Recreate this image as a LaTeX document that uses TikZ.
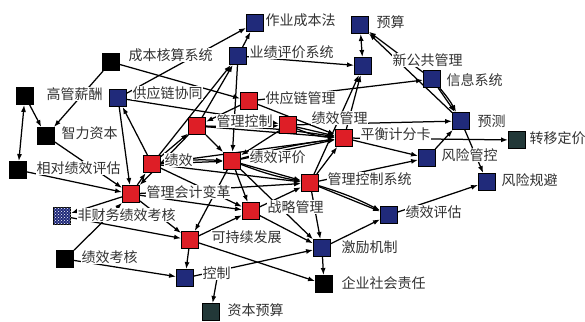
\documentclass[tikz,border=0pt]{standalone}
\usepackage{fontspec}
\newfontfamily\cjk{Noto Sans CJK SC}
\usetikzlibrary{arrows.meta,patterns}
\definecolor{nred}{RGB}{222,30,38}
\definecolor{nblue}{RGB}{32,42,122}
\definecolor{nteal}{RGB}{34,56,56}
\definecolor{txt}{RGB}{50,50,50}
\pgfdeclarelayer{bg}
\pgfsetlayers{bg,main}
\begin{document}
\begin{tikzpicture}[x=1pt,y=-1pt,
 sq/.style={draw=black,line width=0.9pt,minimum size=17pt,inner sep=0pt,rectangle},
 rsq/.style={sq,fill=nred}, bsq/.style={sq,fill=nblue}, ksq/.style={sq,fill=black}, tsq/.style={sq,fill=nteal},
 psq/.style={sq,fill=nblue,postaction={pattern=crosshatch dots,pattern color=white}},
 lab/.style={anchor=west,fill=white,inner sep=0.5pt,font=\cjk\fontsize{14}{14}\selectfont,text=txt},
 edge/.style={draw=black,line width=1.25pt,-{Latex[length=7pt,width=5pt]}},
 dedge/.style={draw=black,line width=1.25pt,{Latex[length=7pt,width=5pt]}-{Latex[length=7pt,width=5pt]}},
]
\useasboundingbox (0,0) rectangle (585,321);
% squares
\node[bsq] (zycb) at (255,23) {};
\node[bsq] (yjpj) at (238,56) {};
\node[ksq] (cbhs) at (111,62) {};
\node[ksq] (ggxc) at (25,96) {};
\node[bsq] (gylxt) at (118,98) {};
\node[ksq] (zlzb) at (46,136) {};
\node[ksq] (xdjx) at (18,170) {};
\node[bsq] (ys) at (360,25) {};
\node[bsq] (xggg) at (363,66) {};
\node[bsq] (xxxt) at (432,79) {};
\node[rsq] (gylgl) at (249,101) {};
\node[rsq] (glkz) at (197,126) {};
\node[rsq] (jxgl) at (288,125) {};
\node[rsq] (phjf) at (344,138) {};
\node[bsq] (yc) at (461,121) {};
\node[tsq] (zydj) at (517,140) {};
\node[bsq] (fxgk) at (427,158) {};
\node[bsq] (fxgb) at (487,182) {};
\node[rsq] (jx) at (152,164) {};
\node[rsq] (jxpj) at (232,161) {};
\node[rsq] (glkzxt) at (310,183) {};
\node[rsq] (glkjbg) at (131,194) {};
\node[psq] (fcw) at (62,216) {};
\node[rsq] (zlgl) at (251,211) {};
\node[bsq] (jxpg) at (389,215) {};
\node[rsq] (kcx) at (190,240) {};
\node[bsq] (jljz) at (322,248) {};
\node[ksq] (jxkh) at (65,259) {};
\node[bsq] (kz) at (185,278) {};
\node[ksq] (qyshzr) at (324,284) {};
\node[tsq] (zbys) at (211,312) {};
% labels
\node[lab] (l-zycb) at (265,20) {作业成本法};
\node[lab] (l-yjpj) at (249,52) {业绩评价系统};
\node[lab] (l-cbhs) at (128,55) {成本核算系统};
\node[lab] (l-ggxc) at (46,94) {高管薪酬};
\node[lab] (l-gylxt) at (132,93) {供应链协同};
\node[lab] (l-zlzb) at (61,133) {智力资本};
\node[lab] (l-xdjx) at (36,168) {相对绩效评估};
\node[lab] (l-ys) at (376,22) {预算};
\node[lab] (l-xggg) at (392,60) {新公共管理};
\node[lab] (l-xxxt) at (446,80) {信息系统};
\node[lab] (l-gylgl) at (265,98) {供应链管理};
\node[lab] (l-glkz) at (216,121) {管理控制};
\node[lab] (l-jxgl) at (311,118) {绩效管理};
\node[lab] (l-phjf) at (360,134) {平衡计分卡};
\node[lab] (l-yc) at (477,121) {预测};
\node[lab] (l-zydj) at (529,138) {转移定价};
\node[lab] (l-fxgk) at (441,155) {风险管控};
\node[lab] (l-fxgb) at (501,180) {风险规避};
\node[lab] (l-jx) at (164,160) {绩效};
\node[lab] (l-jxpj) at (249,157) {绩效评价};
\node[lab] (l-glkzxt) at (327,179) {管理控制系统};
\node[lab] (l-glkjbg) at (146,192) {管理会计变革};
\node[lab] (l-fcw) at (77,215) {非财务绩效考核};
\node[lab] (l-zlgl) at (267,207) {战略管理};
\node[lab] (l-jxpg) at (405,212) {绩效评估};
\node[lab] (l-kcx) at (211,237) {可持续发展};
\node[lab] (l-jljz) at (341,247) {激励机制};
\node[lab] (l-jxkh) at (81,257) {绩效考核};
\node[lab] (l-kz) at (202,273) {控制};
\node[lab] (l-qyshzr) at (341,283) {企业社会责任};
\node[lab] (l-zbys) at (227,310) {资本预算};
% edges
\begin{pgfonlayer}{bg}
\draw[dedge] (ggxc) -- (xdjx);
\draw[edge] (ggxc) -- (zlzb);
\draw[edge] (cbhs) -- (zlzb);
\draw[edge] (zlzb) -- (glkjbg);
\draw[edge] (cbhs) -- (gylgl);
\draw[edge] (gylxt) -- (zycb);
\draw[edge] (yjpj) -- (zycb);
\draw[edge] (jx) -- (yjpj);
\draw[edge] (glkz) -- (yjpj);
\draw[edge] (yjpj) -- (jxpj);
\draw[edge] (yjpj) -- (xggg);
\draw[dedge] (xggg) -- (ys);
\draw[edge] (xxxt) -- (ys);
\draw[edge] (yc) -- (ys);
\draw[edge] (gylgl) -- (xxxt);
\draw[edge] (glkzxt) -- (xggg);
\draw[edge] (phjf) -- (xggg);
\draw[edge] (xxxt) -- (yc);
\draw[edge] (xxxt) to[bend left=6] (yc);
\draw[edge] (jxgl) -- (yc);
\draw[edge] (phjf) -- (zydj);
\draw[edge] (fxgk) -- (yc);
\draw[edge] (yc) -- (fxgb);
\draw[edge] (jxpg) -- (fxgb);
\draw[edge] (phjf) -- (fxgk);
\draw[edge] (glkzxt) -- (fxgk);
\draw[edge] (glkzxt) -- (jxpg);
\draw[edge] (glkzxt) to[bend left=5] (jxpg);
\draw[edge] (jljz) -- (jxpg);
\draw[edge] (glkzxt) -- (jljz);
\draw[edge] (jljz) -- (qyshzr);
\draw[edge] (kcx) -- (qyshzr);
\draw[edge] (jxpj) -- (jljz);
\draw[edge] (zlgl) -- (jljz);
\draw[edge] (kz) -- (jljz);
\draw[edge] (jxkh) -- (kz);
\draw[edge] (l-kz.south) -- (zbys);
\draw[edge] (kcx) -- (kz);
\draw[edge] (fcw) -- (kcx);
\draw[edge] (jxkh) -- (glkjbg);
\draw[edge] (glkjbg) -- (fcw);
\draw[edge] (xdjx) -- (glkjbg);
\draw[edge] (jx) -- (gylxt);
\draw[edge] (gylxt) -- (jxgl);
\draw[edge] (jx) -- (glkz);
\draw[edge] (glkjbg) -- (jx);
\draw[edge] (jx) -- (jxpj);
\draw[edge] (jx) to[bend left=5] (jxpj);
\draw[edge] (glkz) -- (jxpj);
\draw[edge] (jxpj) -- (phjf);
\draw[edge] (jxpj) to[bend left=4] (phjf);
\draw[edge] (jxgl) -- (phjf);
\draw[edge] (jxgl) to[bend right=10] (phjf);
\draw[edge] (gylgl) -- (phjf);
\draw[edge] (glkz) -- (phjf);
\draw[edge] (glkz) to[bend left=4] (phjf);
\draw[edge] (glkz) to[bend right=3] (jxgl);
\draw[edge] (jxpj) -- (glkzxt);
\draw[edge] (jxpj) to[bend right=5] (glkzxt);
\draw[edge] (jxpj) -- (zlgl);
\draw[edge] (zlgl) -- (glkzxt);
\draw[edge] (glkjbg) -- (zlgl);
\draw[edge] (jxpj) -- (kcx);
\draw[edge] (kcx) -- (zlgl);
\draw[edge] (glkjbg) -- (glkzxt);
\draw[edge] (jx) -- (glkzxt);
\draw[edge] (glkzxt) -- (phjf);
\draw[edge] (gylgl) -- (glkz);
\draw[edge] (jxgl) -- (jxpj);
\draw[edge] (glkz) -- (glkjbg);
\draw[edge] (gylxt) -- (glkjbg);
\draw[edge] (jx) -- (phjf);
\draw[edge] (glkjbg) -- (kcx);
\draw[edge] (jx) -- (zlgl);
\end{pgfonlayer}
\end{tikzpicture}
\end{document}
